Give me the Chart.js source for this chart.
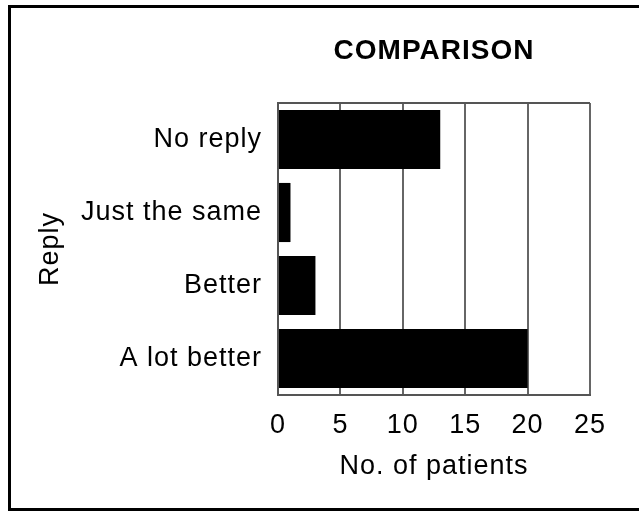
<!DOCTYPE html>
<html>
<head>
<meta charset="utf-8">
<script src="https://cdn.jsdelivr.net/npm/chart.js@4/dist/chart.umd.min.js"></script>
<style>
    html, body { margin: 0; padding: 0; background: #fff; overflow: hidden; }
    #wrap { position: relative; width: 639px; height: 512px; }
    #frame {
        position: absolute; left: 8px; top: 5px; width: 700px; height: 506px;
        box-sizing: border-box; border: 3px solid #000; pointer-events: none;
    }
</style>
</head>
<body>
<div id="wrap">
    <canvas id="replyChart" width="639" height="512"></canvas>
    <div id="frame"></div>
</div>
<script>
    // Datos del gráfico
    const categories = ['No reply', 'Just the same', 'Better', 'A lot better'];
    const patients = [13, 1, 3, 20];
    const xTicks = [0, 5, 10, 15, 20, 25];

    const FONT = 'Liberation Sans, Arial, Helvetica, sans-serif';

    // Espaciado de letras para imitar la tipografía original
    const letterSpacingPlugin = {
        id: 'letterSpacing',
        beforeUpdate(chart) { chart.ctx.letterSpacing = '1px'; },
        beforeDraw(chart) { chart.ctx.letterSpacing = '1px'; }
    };

    const ctx = document.getElementById('replyChart').getContext('2d');
    new Chart(ctx, {
        type: 'bar',
        data: {
            labels: categories,
            datasets: [{
                data: patients,
                backgroundColor: '#000',
                borderWidth: 0,
                barPercentage: 0.81,
                categoryPercentage: 1.0
            }]
        },
        plugins: [letterSpacingPlugin],
        options: {
            indexAxis: 'y',
            responsive: false,
            animation: false,
            layout: { padding: { left: 20, right: 49, top: 0, bottom: 20 } },
            plugins: {
                legend: { display: false },
                tooltip: { enabled: false },
                title: {
                    display: true,
                    text: 'COMPARISON',
                    color: '#000',
                    fullSize: false,
                    font: { family: FONT, size: 28, weight: 'bold', lineHeight: 1.2 },
                    padding: { top: 34.2, bottom: 35.2 }
                }
            },
            scales: {
                x: {
                    min: 0,
                    max: 25,
                    afterBuildTicks: (scale) => {
                        scale.ticks = xTicks.map(v => ({ value: v }));
                    },
                    afterFit: (scale) => { scale.height = 97; },
                    ticks: {
                        color: '#000',
                        padding: 14.5,
                        font: { family: FONT, size: 27 }
                    },
                    grid: { color: '#666', lineWidth: 2, drawTicks: false },
                    border: { display: true, color: '#555', width: 2 },
                    title: {
                        display: true,
                        text: 'No. of patients',
                        color: '#000',
                        font: { family: FONT, size: 27 },
                        padding: { top: 0, bottom: 9 }
                    }
                },
                y: {
                    afterFit: (scale) => { scale.width = 258; },
                    ticks: {
                        color: '#000',
                        padding: 16,
                        font: { family: FONT, size: 27 }
                    },
                    grid: {
                        drawTicks: false,
                        lineWidth: 2,
                        color: (c) => (c.type === 'scale' || c.index === 0) ? '#555' : 'transparent'
                    },
                    border: { display: true, color: '#555', width: 2 },
                    title: {
                        display: true,
                        text: 'Reply',
                        color: '#000',
                        font: { family: FONT, size: 27 },
                        padding: { top: 14, bottom: 0 }
                    }
                }
            }
        }
    });
</script>
</body>
</html>
